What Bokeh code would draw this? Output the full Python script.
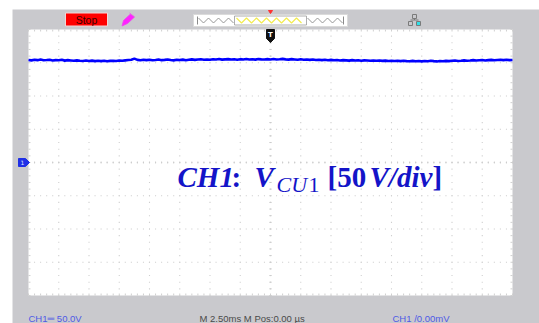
import numpy as np
from bokeh.plotting import figure
from bokeh.models import Range1d
from bokeh.core.properties import value
from bokeh.embed import file_html
from bokeh.resources import INLINE

# ---- acquisition settings -------------------------------------------------
VOLTS_PER_DIV = 50.0
MS_PER_DIV = 2.5
H_DIVS = 16
V_DIVS = 8
SAMPLE_STEP_MS = 0.25

# CH1 record (volts), one sample every SAMPLE_STEP_MS across the screen
ch1_volts = [
    154.2, 153.6, 154.5, 153.9, 154.8, 153.7, 154.1, 154.6, 153.5, 154.0,
    153.8, 154.4, 153.2, 153.9, 153.4, 152.9, 153.6, 153.1, 152.7, 153.3,
    152.6, 153.2, 152.4, 152.9, 152.5, 153.1, 152.3, 152.8, 153.0, 152.6,
    153.4, 152.9, 153.6, 154.2, 154.6, 156.2, 154.3, 153.8, 154.4, 153.9,
    154.5, 153.7, 154.2, 154.8, 153.9, 154.3, 154.9, 154.1, 153.6, 154.4,
    154.0, 154.7, 153.8, 154.5, 155.1, 154.3, 154.8, 155.2, 154.6, 155.0,
    154.4, 155.3, 154.9, 155.6, 154.7, 155.1, 155.5, 154.8, 155.2, 154.6,
    155.4, 155.0, 155.7, 154.9, 155.3, 154.7, 155.5, 155.1, 154.8, 155.4,
    155.0, 155.6, 154.9, 155.3, 155.8, 155.1, 154.7, 155.4, 155.0, 154.6,
    155.2, 154.5, 154.9, 154.3, 154.8, 154.2, 154.6, 154.0, 154.4, 153.8,
    154.3, 153.7, 154.1, 153.5, 154.0, 153.6, 153.2, 153.9, 153.4, 153.8,
    153.1, 153.6, 153.3, 152.9, 153.5, 153.0, 153.4, 152.8, 153.2, 152.7,
    153.1, 152.6, 152.9, 152.4, 153.0, 152.5, 152.2, 152.8, 152.3, 152.7,
    152.1, 152.6, 152.3, 152.9, 152.4, 152.0, 152.6, 152.2, 152.8, 152.5,
    152.9, 153.3, 152.7, 153.1, 153.6, 153.0, 153.4, 153.9, 153.3, 153.7,
    154.1, 153.5, 153.9, 154.3, 153.8, 154.2, 154.6, 154.0, 154.4, 153.9, 154.2,
]

status_text = "Stop"
ch1_scale_text = "CH1\u2550 50.0V"
timebase_text = "M 2.50ms   M Pos:0.00 \u00b5s"
trigger_text = "CH1 /0.00mV"

# ---- page / screen geometry (pixels) ---------------------------------------
W, H = 539, 323
PANEL_L, PANEL_T = 12, 9
SCR_L, SCR_R, SCR_T, SCR_B = 28, 512, 29, 295

x_c = (SCR_L + SCR_R) / 2
y_c = (SCR_T + SCR_B) / 2
px_per_ms = (SCR_R - SCR_L) / (H_DIVS * MS_PER_DIV)
px_per_V = (SCR_B - SCR_T) / (V_DIVS * VOLTS_PER_DIV)

p = figure(width=W, height=H, x_range=Range1d(0, W), y_range=Range1d(H, 0),
           output_backend="svg", toolbar_location=None, min_border=0,
           x_axis_type=None, y_axis_type=None)
p.outline_line_color = None
p.background_fill_color = "white"
p.border_fill_color = "white"
p.extra_x_ranges = {"ms": Range1d((0 - x_c) / px_per_ms, (W - x_c) / px_per_ms)}
p.extra_y_ranges = {"V": Range1d((y_c - H) / px_per_V, y_c / px_per_V)}

# instrument panel and screen
p.quad(left=[PANEL_L], right=[W], top=[PANEL_T], bottom=[H],
       fill_color="#c9c9cd", line_color=None)
p.quad(left=[SCR_L], right=[SCR_R], top=[SCR_T], bottom=[SCR_B],
       fill_color="white", line_color=None)

# dotted graticule
t_half = H_DIVS * MS_PER_DIV / 2
v_half = V_DIVS * VOLTS_PER_DIV / 2
t_minor = np.arange(-t_half, t_half + 1e-9, MS_PER_DIV / 5)
v_minor = np.arange(-v_half, v_half + 1e-9, VOLTS_PER_DIV / 5)
t_major = np.arange(-t_half + MS_PER_DIV, t_half - 1e-9, MS_PER_DIV)
v_major = np.arange(-v_half + VOLTS_PER_DIV, v_half - 1e-9, VOLTS_PER_DIV)

gx = np.concatenate([np.repeat(t_major, len(v_minor)), np.tile(t_minor, len(v_major))])
gy = np.concatenate([np.tile(v_minor, len(t_major)), np.repeat(v_major, len(t_minor))])
p.scatter(gx, gy, marker="square", size=1.1, color="#cfcfcf", line_color=None,
          x_range_name="ms", y_range_name="V")

# border ticks
tick = 2
edge = "#d0d0d0"
p.segment(x0=t_minor, y0=[SCR_T] * len(t_minor), x1=t_minor, y1=[SCR_T + tick] * len(t_minor),
          line_color=edge, line_width=1, x_range_name="ms")
p.segment(x0=t_minor, y0=[SCR_B] * len(t_minor), x1=t_minor, y1=[SCR_B - tick] * len(t_minor),
          line_color=edge, line_width=1, x_range_name="ms")
p.segment(x0=[SCR_L] * len(v_minor), y0=v_minor, x1=[SCR_L + tick] * len(v_minor), y1=v_minor,
          line_color=edge, line_width=1, y_range_name="V")
p.segment(x0=[SCR_R] * len(v_minor), y0=v_minor, x1=[SCR_R - tick] * len(v_minor), y1=v_minor,
          line_color=edge, line_width=1, y_range_name="V")
# centre-line ticks
p.segment(x0=t_minor, y0=[-1.5] * len(t_minor), x1=t_minor, y1=[1.5] * len(t_minor),
          line_color="#cdcdcd", line_width=1, x_range_name="ms", y_range_name="V")
p.segment(x0=[-0.1] * len(v_minor), y0=v_minor, x1=[0.1] * len(v_minor), y1=v_minor,
          line_color="#cdcdcd", line_width=1, x_range_name="ms", y_range_name="V")

# CH1 trace
t_samples = -t_half + SAMPLE_STEP_MS * np.arange(len(ch1_volts))
p.line(t_samples, ch1_volts, line_color="#0000ff", line_width=2.6,
       x_range_name="ms", y_range_name="V")

# trigger position marker (top of screen, t = 0)
p.patch(x=[-0.33, 0.33, 0.33, 0.0, -0.33], y=[SCR_T, SCR_T, SCR_T + 9, SCR_T + 13, SCR_T + 9],
        fill_color="#111111", line_color="#111111", x_range_name="ms")
p.text(x=[0], y=[SCR_T + 5.5], text=["T"], text_color="white", text_font=value("DejaVu Sans"),
       text_font_style="bold", text_font_size="7px", text_align="center",
       text_baseline="middle", x_range_name="ms")

# CH1 ground marker (left edge, 0 V)
p.patch(x=[18, 25, 29, 25, 18], y=[6, 6, 0, -6, -6], fill_color="#1f2fe6",
        line_color="#1f2fe6", y_range_name="V")
p.text(x=[22], y=[0], text=["1"], text_color="#dfe4ff", text_font=value("DejaVu Sans"),
       text_font_size="6px", text_align="center", text_baseline="middle", y_range_name="V")

# ---- top status bar --------------------------------------------------------
p.quad(left=[65], right=[107], top=[12.5], bottom=[25.5], fill_color="#ff0000",
       line_color="#f3d6d6", line_width=1)
p.text(x=[86], y=[19.5], text=[status_text], text_color="#3a0000",
       text_font=value("Liberation Sans"), text_font_size="10.5px",
       text_align="center", text_baseline="middle")

# probe pen icon
p.patch(x=[121.5, 123, 130, 134, 127], y=[25.5, 20, 13.5, 16.5, 23],
        fill_color="#ff22ff", line_color="#ee44ee", line_width=0.8)
p.line(x=[129, 133], y=[12.5, 15.5], line_color="#e070e0", line_width=1)

# memory bar
p.quad(left=[193], right=[347], top=[14], bottom=[26], fill_color="white",
       line_color="#dadada", line_width=1)
p.quad(left=[234], right=[306], top=[15.5], bottom=[24.5], fill_color="white",
       line_color="#9a9a9a", line_width=0.8)


def zigzag(x0, x1, period=10.0, lo=22.5, hi=17.5):
    xs = np.arange(x0, x1 + 1e-9, period / 2)
    ys = np.where(np.arange(len(xs)) % 2 == 0, hi, lo)
    return xs, ys


zx, zy = zigzag(198, 233)
p.line(zx, zy, line_color="#8a8a8a", line_width=0.9)
zx, zy = zigzag(236, 305)
p.line(zx, zy, line_color="#f2ec50", line_width=1.2)
zx, zy = zigzag(307, 342)
p.line(zx, zy, line_color="#8a8a8a", line_width=0.9)
p.segment(x0=[197, 343], y0=[16, 16], x1=[197, 343], y1=[24, 24],
          line_color="#8a8a8a", line_width=1)
p.patch(x=[268, 272, 270], y=[10, 10, 13], fill_color="#ff3030", line_color="#ff3030")

# network icon
p.quad(left=[412, 408, 416], right=[416, 412, 420], top=[14, 21, 21], bottom=[18, 25, 25],
       fill_color=["#c9c9cd", "#c9c9cd", "#30e0e8"], line_color="#7a7a7a", line_width=1)
p.segment(x0=[414, 410], y0=[18, 19.5], x1=[414, 418], y1=[19.5, 19.5],
          line_color="#7a7a7a", line_width=1)

# ---- bottom status line ----------------------------------------------------
status_font = value("Liberation Sans")
status_y = 317.5
p.text(x=[28], y=[status_y], text=[ch1_scale_text], text_color="#4e5ae6",
       text_font=status_font, text_font_size="9.5px", text_baseline="middle")
p.text(x=[199], y=[status_y], text=[timebase_text], text_color="#4a4a4a",
       text_font=status_font, text_font_size="9.5px", text_baseline="middle")
p.text(x=[392], y=[status_y], text=[trigger_text], text_color="#4e5ae6",
       text_font=status_font, text_font_size="9.5px", text_baseline="middle")

# ---- channel caption -------------------------------------------------------
cap_color = "#1414c8"
serif = value("Liberation Serif")
mid = 176
sub_mid = 184
big = "29px"
sub = "22px"
p.text(x=[177], y=[mid], text=["CH1"], text_color=cap_color, text_font=serif,
       text_font_style="bold italic", text_font_size=big, text_baseline="middle")
p.text(x=[231], y=[mid], text=[":"], text_color=cap_color, text_font=serif,
       text_font_style="bold", text_font_size=big, text_baseline="middle")
p.text(x=[254], y=[mid], text=["V"], text_color=cap_color, text_font=serif,
       text_font_style="bold italic", text_font_size=big, text_baseline="middle")
p.text(x=[276], y=[sub_mid], text=["CU"], text_color=cap_color, text_font=serif,
       text_font_style="italic", text_font_size=sub, text_baseline="middle")
p.text(x=[308], y=[sub_mid], text=["1"], text_color=cap_color, text_font=serif,
       text_font_style="normal", text_font_size=sub, text_baseline="middle")
p.text(x=[327], y=[mid], text=["[50"], text_color=cap_color, text_font=serif,
       text_font_style="bold", text_font_size=big, text_baseline="middle")
p.text(x=[369], y=[mid], text=["V/div"], text_color=cap_color, text_font=serif,
       text_font_style="bold italic", text_font_size=big, text_baseline="middle")
p.text(x=[432], y=[mid], text=["]"], text_color=cap_color, text_font=serif,
       text_font_style="bold", text_font_size=big, text_baseline="middle")

open("out.html", "w").write(file_html(p, INLINE))
